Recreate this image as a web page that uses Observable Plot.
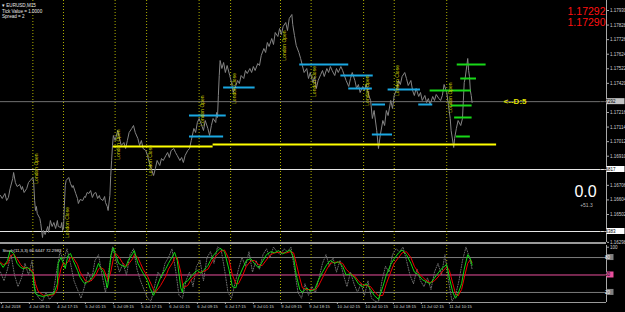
<!DOCTYPE html>
<html><head><meta charset="utf-8">
<script src="https://cdn.jsdelivr.net/npm/d3@7"></script>
<script src="https://cdn.jsdelivr.net/npm/@observablehq/plot@0.6"></script>
<style>
html,body{margin:0;padding:0;background:#000;}
#chart{width:625px;height:312px;overflow:hidden;background:#000;position:relative;}
#chart svg{display:block;}
.sep{width:606px;height:2px;background:#9a9a9a;}
</style></head><body><div id="chart"></div>
<script>
// ---------- DATA ----------
const symbolInfo = ["\u25BE EURUSD,M15", "Tick Value = 1.0000", "Spread = 2"];
const bid = 1.17292, ask = 1.17290;
const pipsText = "0.0", pipsSub = "+51.3";
const dLabel = "<--D:5", dLabelBar = 575;
// price series [bar index (M15), close]
const priceSeries = [
[0,1.16635],[2,1.16614],[5,1.16649],[7,1.16600],[9,1.16621],[11,1.16684],[14,1.16754],[15,1.16796],[17,1.16726],[19,1.16698],[22,1.16712],[24,1.16677],[25,1.16698],[27,1.16656],[30,1.16684],[32,1.16726],[34,1.16740],[37,1.16761],[38,1.16719],
[39,1.16600],[40,1.16530],[41,1.16558],[42,1.16509],[45,1.16474],[46,1.16439],[47,1.16390],[48,1.16341],[49,1.16390],[51,1.16362],[54,1.16418],[55,1.16376],[57,1.16460],[59,1.16418],[61,1.16446],[63,1.16404],[65,1.16460],[66,1.16418],[69,1.16411],[70,1.16446],[71,1.16390],[72,1.16404],
[73,1.16565],[74,1.16705],[75,1.16740],[78,1.16761],[80,1.16719],[82,1.16691],[83,1.16705],[86,1.16649],[88,1.16614],[89,1.16579],[91,1.16607],[94,1.16600],[96,1.16628],[97,1.16621],[99,1.16656],[101,1.16649],[103,1.16670],[105,1.16621],[107,1.16649],[109,1.16656],[111,1.16614],[113,1.16635],[114,1.16614],[117,1.16600],[119,1.16628],[120,1.16586],[122,1.16558],[123,1.16530],[125,1.16635],
[126,1.16775],[127,1.16880],[128,1.16985],[129,1.17055],[131,1.17020],[134,1.17090],[136,1.17034],[138,1.16985],[141,1.17006],[143,1.16964],[145,1.17020],[147,1.17076],[150,1.17104],[152,1.17125],[154,1.17076],[157,1.17034],[159,1.16985],[161,1.17020],[163,1.16964],[166,1.16950],[168,1.16915],[170,1.16866],[173,1.16810],[175,1.16775],[177,1.16824],[179,1.16880],[182,1.16845],[184,1.16894],[186,1.16880],[189,1.16915],[191,1.16936],[193,1.16901],[195,1.16950],[198,1.16964],[200,1.16936],[202,1.16915],[205,1.16880],[207,1.16901],[209,1.16866],[211,1.16915],[214,1.16950],[216,1.16964],
[218,1.17020],[221,1.17104],[223,1.17076],[225,1.17146],[227,1.17174],[230,1.17125],[232,1.17090],[234,1.17160],[237,1.17104],[239,1.17055],[241,1.17125],[243,1.17174],[246,1.17146],[247,1.17216],[248,1.17181],[249,1.17335],[250,1.17475],[251,1.17580],
[253,1.17524],[255,1.17566],[257,1.17496],[259,1.17545],[262,1.17475],[264,1.17426],[266,1.17356],[269,1.17405],[271,1.17440],[273,1.17419],[275,1.17475],[278,1.17454],[280,1.17510],[282,1.17489],[285,1.17524],[287,1.17496],[289,1.17538],[291,1.17510],[294,1.17559],[296,1.17545],
[298,1.17615],[301,1.17664],[303,1.17636],[305,1.17706],[307,1.17678],[310,1.17734],[312,1.17692],[314,1.17776],[317,1.17748],[319,1.17804],[321,1.17762],[323,1.17818],[326,1.17846],[328,1.17790],[330,1.17874],[333,1.17902],[334,1.17832],[336,1.17755],[338,1.17685],[341,1.17636],[343,1.17594],
[345,1.17545],[347,1.17496],[350,1.17524],[352,1.17454],[354,1.17496],[357,1.17426],[359,1.17468],[361,1.17384],[363,1.17440],[366,1.17482],[368,1.17510],[370,1.17468],[373,1.17524],[375,1.17496],[377,1.17538],[379,1.17510],[382,1.17475],[384,1.17524],[386,1.17496],[389,1.17538],[391,1.17510],[393,1.17475],
[395,1.17440],[398,1.17398],[400,1.17454],[402,1.17496],[405,1.17440],[407,1.17384],[409,1.17412],[411,1.17356],[414,1.17398],[416,1.17370],[418,1.17412],[421,1.17335],[423,1.17300],[425,1.17174],[427,1.17230],[430,1.17090],[432,1.16964],[434,1.17055],
[437,1.17160],[439,1.17125],[441,1.17230],[443,1.17195],[446,1.17300],[448,1.17244],[450,1.17335],[453,1.17384],[455,1.17440],[457,1.17412],[459,1.17468],[462,1.17496],[464,1.17454],[466,1.17405],[469,1.17440],[471,1.17370],[473,1.17335],[475,1.17384],[478,1.17328],[480,1.17356],[482,1.17300],[485,1.17335],[487,1.17286],[489,1.17314],[491,1.17272],[494,1.17328],[496,1.17300],[498,1.17342],[501,1.17314],[503,1.17300],[505,1.17335],[507,1.17412],[510,1.17356],
[512,1.17265],[514,1.17174],[515,1.17090],[518,1.16971],[519,1.17034],[521,1.17104],[523,1.17160],[526,1.17125],[528,1.17174],[529,1.17300],[530,1.17426],[531,1.17454],[533,1.17545],[534,1.17594],[535,1.17510],[536,1.17468],[537,1.17370],[538,1.17335],[539,1.17286]
];
// horizontal levels
const whiteLevels = [1.16817, 1.16383];
const yellowLevels = [[129,243,1.16978],[243,567,1.16992]];          // [fromBar, toBar, price]
const cyanLevels = [[216,258,1.17195],[216,255,1.17048],[255,291,1.17391],[342,398,1.17552],[389,426,1.17475],[398,425,1.17384],[425,440,1.17272],[425,448,1.17062],[443,480,1.17377],[478,494,1.17272]];
const greenLevels = [[491,538,1.17370],[522,555,1.17552],[526,544,1.17454],[515,539,1.17265],[519,539,1.17181],[521,537,1.17048]];
// session lines
const sessionBars = [37,72,131,167,227,263,320,355,415,450,510];
const sessionLabelPrices = [1.16824,1.16446,1.16992,1.16880,1.17230,1.17384,1.17685,1.17433,1.17370,1.17440,1.17321];
const sessionLabelTexts = ["London Open","London Close","London Open","London Close","London Open","London Close","London Open","London Close","London Open","London Close","London Open"];
// axes
const yTicks = [1.17930,1.17828,1.17726,1.17624,1.17522,1.17420,1.17216,1.17114,1.17012,1.16910,1.16706,1.16604,1.16502];
const yTickLast = [1.16298];
const xTickBars = [1,33,65,97,129,161,193,225,257,289,321,353,385,417,449,481,513];
const xTickLabels = ["4 Jul 2018","4 Jul 09:15","4 Jul 17:15","5 Jul 01:15","5 Jul 09:15","5 Jul 17:15","6 Jul 01:15","6 Jul 09:15","6 Jul 17:15","9 Jul 01:15","9 Jul 09:15","9 Jul 18:15","10 Jul 02:15","10 Jul 10:15","10 Jul 18:15","11 Jul 02:15","11 Jul 10:15"];
// stochastic
const stochTitle = "Stoch(11,3,3) 66.6447 72.2983";
const stochTop = [100];
const stochLevels = [80, 20], stochMid = [50];
const stochMain = [[0,70],[3,63],[8,75],[11,92],[15,87],[19,70],[23,63],[26,61],[31,63],[34,58],[37,53],[38,35],[40,18],[43,15],[49,13],[55,16],[61,18],[65,35],[66,70],[69,80],[72,70],[74,61],[77,83],[80,87],[83,75],[88,58],[91,46],[95,37],[97,35],[101,40],[105,46],[109,58],[112,70],[114,63],[118,54],[122,28],[123,35],[126,83],[129,97],[131,87],[135,70],[139,66],[143,63],[146,75],[151,87],[153,92],[157,70],[160,61],[163,53],[168,40],[171,27],[175,15],[177,23],[183,46],[189,61],[192,70],[197,83],[199,89],[202,75],[206,28],[208,20],[209,35],[214,40],[217,46],[221,53],[225,58],[229,53],[232,58],[237,66],[240,75],[243,83],[247,90],[251,96],[256,90],[261,60],[265,30],[269,28],[272,45],[277,62],[281,75],[286,78],[290,70],[295,62],[299,72],[304,85],[309,90],[313,88],[318,92],[322,86],[327,90],[331,93],[335,80],[338,50],[342,25],[345,20],[350,28],[354,22],[359,25],[363,40],[368,55],[373,68],[377,75],[382,70],[386,73],[391,65],[395,50],[400,52],[405,45],[409,35],[414,30],[418,35],[423,25],[427,15],[432,8],[437,30],[441,50],[446,68],[450,78],[455,88],[459,93],[464,85],[469,70],[473,55],[478,50],[482,42],[487,38],[491,35],[496,45],[501,55],[505,62],[510,68],[513,45],[517,20],[520,10],[523,18],[527,35],[530,60],[534,85],[537,78],[539,67]];
const stochSignal = [[0,72],[3,68],[8,70],[11,82],[15,86],[19,78],[23,68],[26,63],[31,62],[34,60],[37,56],[38,50],[40,35],[43,22],[49,15],[55,15],[61,16],[65,25],[66,40],[69,60],[72,72],[74,68],[77,72],[80,80],[83,80],[88,68],[91,55],[95,45],[97,40],[101,38],[105,42],[109,50],[112,60],[114,63],[118,60],[122,45],[123,40],[126,55],[129,78],[131,88],[135,82],[139,72],[143,65],[146,68],[151,78],[153,85],[157,80],[160,70],[163,60],[168,48],[171,38],[175,25],[177,20],[183,32],[189,48],[192,60],[197,72],[199,80],[202,80],[206,55],[208,35],[209,28],[214,32],[217,40],[221,47],[225,53],[229,55],[232,56],[237,60],[240,68],[243,76],[247,84],[251,90],[256,93],[261,78],[265,50],[269,35],[272,35],[277,50],[281,65],[286,74],[290,75],[295,68],[299,66],[304,76],[309,85],[313,88],[318,89],[322,88],[327,88],[331,90],[335,88],[338,70],[342,45],[345,28],[350,25],[354,25],[359,24],[363,30],[368,45],[373,60],[377,70],[382,72],[386,72],[391,70],[395,60],[400,52],[405,48],[409,40],[414,33],[418,32],[423,30],[427,22],[432,14],[437,15],[441,35],[446,55],[450,70],[455,80],[459,88],[464,90],[469,80],[473,65],[478,53],[482,47],[487,40],[491,37],[496,40],[501,48],[505,56],[510,64],[513,58],[517,35],[520,18],[523,14],[527,25],[530,45],[534,70],[537,76],[539,72]];
const stochFast = [[0,55],[4,40],[8,60],[12,85],[16,50],[20,30],[24,45],[28,70],[32,50],[36,75],[40,20],[44,10],[48,5],[52,20],[56,8],[60,15],[64,55],[68,90],[72,75],[76,95],[80,70],[84,40],[88,25],[92,10],[96,30],[100,55],[104,40],[108,75],[112,85],[116,50],[120,20],[124,60],[128,98],[132,75],[136,55],[140,70],[144,50],[148,85],[152,95],[156,60],[160,40],[164,25],[168,10],[172,5],[176,30],[180,55],[184,45],[188,70],[192,80],[196,95],[200,60],[204,15],[208,10],[212,40],[216,55],[220,30],[224,65],[228,75],[232,40],[236,80],[240,90],[244,70],[248,98],[252,95],[256,60],[260,20],[264,10],[268,35],[272,60],[276,80],[280,65],[284,90],[288,55],[292,75],[296,60],[300,85],[304,95],[308,80],[312,98],[316,90],[320,85],[324,95],[328,90],[332,98],[336,60],[340,20],[344,10],[348,35],[352,15],[356,30],[360,20],[364,45],[368,70],[372,85],[376,65],[380,80],[384,55],[388,75],[392,50],[396,30],[400,55],[404,35],[408,20],[412,35],[416,15],[420,40],[424,10],[428,5],[432,3],[436,40],[440,65],[444,55],[448,85],[452,95],[456,90],[460,98],[464,75],[468,50],[472,35],[476,60],[480,40],[484,30],[488,45],[492,25],[496,55],[500,70],[504,50],[508,85],[512,40],[516,5],[520,15],[524,40],[528,75],[532,98],[536,80],[539,60]];

// ---------- CHART ----------
const FONT = "'Liberation Sans', Arial, sans-serif";
const xDomain = [0, 692.6];
const toLevels = a => a.map(([from, to, price]) => ({from, to, price}));
const sessionLabels = sessionBars.map((b, i) => ({bar: b, price: sessionLabelPrices[i], text: sessionLabelTexts[i]}));
const axisStyle = {anchor: "right", tickSize: 2, tickPadding: 1.5, fontSize: 4.5, stroke: "#a8a8a8", fill: "#d0d0d0", label: null};

const main = Plot.plot({
  width: 625, height: 242,
  marginLeft: 0, marginRight: 19, marginTop: 0, marginBottom: 0,
  style: {background: "#000", color: "#ddd", fontFamily: FONT, overflow: "visible"},
  x: {domain: xDomain, axis: null},
  y: {domain: [1.16306, 1.18000], axis: null},
  marks: [
    Plot.ruleY(whiteLevels, {stroke: "#e6e6e6", strokeWidth: 1}),
    Plot.ruleY([bid], {stroke: "#707070", strokeWidth: 1}),
    Plot.ruleX(sessionBars, {stroke: "#b0b000", strokeDasharray: "1,2", strokeWidth: 1}),
    Plot.line(priceSeries, {x: d => d[0], y: d => d[1], stroke: "#858585", strokeWidth: 1}),
    Plot.ruleY(toLevels(yellowLevels), {y: "price", x1: "from", x2: "to", stroke: "#ffff00", strokeWidth: 2}),
    Plot.ruleY(toLevels(cyanLevels), {y: "price", x1: "from", x2: "to", stroke: "#1aa8e2", strokeWidth: 2}),
    Plot.ruleY(toLevels(greenLevels), {y: "price", x1: "from", x2: "to", stroke: "#18d818", strokeWidth: 2}),
    Plot.text(sessionLabels, {x: "bar", y: "price", text: "text", rotate: -90, dx: 3.5, lineAnchor: "middle", textAnchor: "middle", fill: "#cccc00", fontSize: 5}),
    Plot.text([dLabel], {x: () => dLabelBar, y: () => bid, text: d => d, textAnchor: "start", lineAnchor: "middle", fill: "#e0e000", fontSize: 8, fontWeight: "bold"}),
    Plot.ruleX([xDomain[1]], {stroke: "#a8a8a8"}),
    Plot.axisY(yTicks, {...axisStyle, tickFormat: d => d.toFixed(5)}),
    Plot.axisY(yTickLast, {...axisStyle, tickFormat: d => d.toFixed(5), dy: -1.3}),
    Plot.text([symbolInfo[0]], {frameAnchor: "top-left", text: d => d, dx: 1.5, dy: 6.5, lineAnchor: "bottom", textAnchor: "start", fontSize: 4.6, fill: "#e8e8e8"}),
    Plot.text([symbolInfo[1]], {frameAnchor: "top-left", text: d => d, dx: 1.5, dy: 12, lineAnchor: "bottom", textAnchor: "start", fontSize: 4.6, fill: "#e8e8e8"}),
    Plot.text([symbolInfo[2]], {frameAnchor: "top-left", text: d => d, dx: 1.5, dy: 17.5, lineAnchor: "bottom", textAnchor: "start", fontSize: 4.6, fill: "#e8e8e8"}),
    Plot.text([bid.toFixed(5)], {frameAnchor: "top-right", text: d => d, dx: -1, dy: 14, lineAnchor: "bottom", textAnchor: "end", fontSize: 10.5, fill: "#ff1010"}),
    Plot.text([ask.toFixed(5)], {frameAnchor: "top-right", text: d => d, dx: -1, dy: 25, lineAnchor: "bottom", textAnchor: "end", fontSize: 10.5, fill: "#ff1010"}),
    Plot.text([pipsText], {frameAnchor: "top-right", text: d => d, dx: -21, dy: 196.5, lineAnchor: "bottom", textAnchor: "middle", fontSize: 16, fill: "#ffffff"}),
    Plot.text([pipsSub], {frameAnchor: "top-right", text: d => d, dx: -20, dy: 206, lineAnchor: "bottom", textAnchor: "middle", fontSize: 5, fill: "#b8b8b8"})
  ]
});

const stoch = Plot.plot({
  width: 625, height: 68,
  marginLeft: 0, marginRight: 19, marginTop: 1, marginBottom: 10,
  style: {background: "#000", color: "#ddd", fontFamily: FONT, overflow: "visible"},
  x: {domain: xDomain, axis: null},
  y: {domain: [2.7, 100.7], axis: null},
  marks: [
    Plot.ruleY(stochLevels, {stroke: "#7c7c7c"}),
    Plot.ruleY(stochMid, {stroke: "#ea4f9c"}),
    Plot.ruleX(sessionBars, {stroke: "#b0b000", strokeDasharray: "1,2"}),
    Plot.line(stochFast, {x: d => d[0], y: d => d[1], stroke: "#6e6e6e", strokeDasharray: "1,1.5", strokeWidth: 1, clip: true}),
    Plot.line(stochSignal, {x: d => d[0], y: d => d[1], stroke: "#f00000", strokeWidth: 1, clip: true}),
    Plot.line(stochMain, {x: d => d[0], y: d => d[1], stroke: "#10d810", strokeWidth: 1, clip: true}),
    Plot.ruleY([2.7], {stroke: "#9a9a9a"}),
    Plot.ruleX([xDomain[1]], {stroke: "#a8a8a8"}),
    Plot.axisY(stochTop, {...axisStyle, dy: 1.3}),
    Plot.axisX(xTickBars, {anchor: "bottom", tickSize: 2, tickPadding: 1, textAnchor: "start", tickFormat: d => xTickLabels[xTickBars.indexOf(d)], fontSize: 4.2, stroke: "#a8a8a8", fill: "#d0d0d0", label: null}),
    Plot.text([stochTitle], {frameAnchor: "top-left", text: d => d, dx: 2, dy: 6, lineAnchor: "bottom", textAnchor: "start", fontSize: 4.3, fill: "#e0e0e0"})
  ]
});

// highlighted price-scale boxes
function boxes(svg, items, width) {
  const g = d3.select(svg).append("g").attr("font-family", FONT).attr("font-size", 4.5);
  for (const it of items) {
    g.append("rect").attr("x", 606.5).attr("y", it.y - 3).attr("width", width).attr("height", 6).attr("fill", it.bg);
    g.append("text").attr("x", 607.5).attr("y", it.y + 1.6).attr("fill", it.fg).text(it.label);
  }
}
const ym = main.scale("y");
boxes(main, [
  {y: ym.apply(bid), label: bid.toFixed(5), bg: "#c4c4c4", fg: "#000"},
  ...whiteLevels.map(v => ({y: ym.apply(v), label: v.toFixed(5), bg: "#ffffff", fg: "#000"}))
], 18);
const ys = stoch.scale("y");
boxes(stoch, [
  ...stochLevels.map(v => ({y: ys.apply(v), label: String(v), bg: "#808080", fg: "#fff"})),
  ...stochMid.map(v => ({y: ys.apply(v), label: String(v), bg: "#ea4f9c", fg: "#000"}))
], 7);

const root = document.getElementById("chart");
root.appendChild(main);
const sep = document.createElement("div"); sep.className = "sep"; root.appendChild(sep);
root.appendChild(stoch);
</script>
</body></html>
